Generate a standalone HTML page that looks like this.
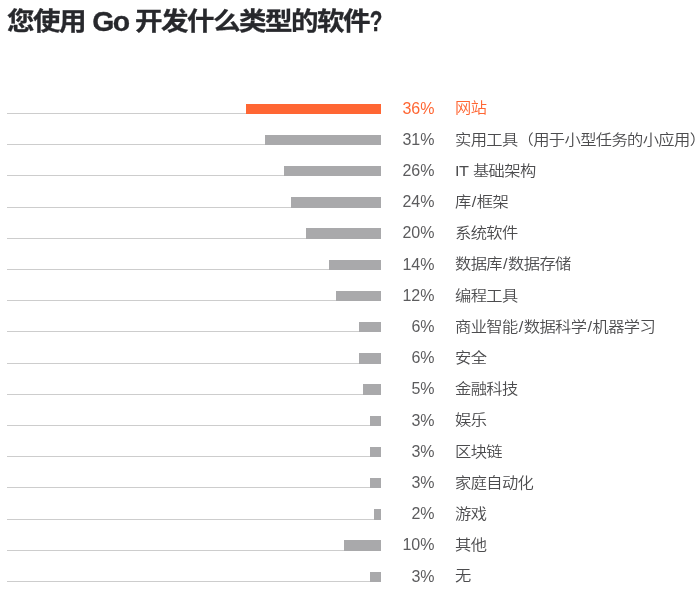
<!DOCTYPE html>
<html lang="zh-CN">
<head>
<meta charset="utf-8">
<title>您使用 Go 开发什么类型的软件?</title>
<style>
html,body{margin:0;padding:0;background:#fff;}
body{width:700px;height:605px;position:relative;overflow:hidden;font-family:"Liberation Sans","Noto Sans CJK SC",sans-serif;color:#4c4c4e;}
h1{position:absolute;left:7px;top:3.7px;margin:0;font-size:26px;line-height:34px;font-weight:bold;color:#27282c;white-space:nowrap;letter-spacing:-1.47px;word-spacing:1.2px;-webkit-text-stroke:0.3px #27282c;transform:scale(1.06,0.95);transform-origin:0 100%;}
h1 .q{display:inline-block;transform:translateX(-0.5px) scale(0.75,1.2);transform-origin:50% 73%;}
h1 .g{display:inline-block;transform:scale(1.03,1.1);transform-origin:50% 70%;}
.row{position:absolute;left:0;width:700px;height:31px;}
.line{position:absolute;left:7px;width:374.3px;height:1px;background:#cdcdcd;top:9.4px;}
.bar{position:absolute;height:10.4px;top:0;background:#a9a9ab;}
.pct{position:absolute;left:384px;width:50.5px;text-align:right;top:-7.1px;font-size:16px;line-height:24px;white-space:nowrap;color:#5c5c5e;}
.lbl{position:absolute;left:455.2px;top:-7.3px;font-size:15.65px;line-height:24px;white-space:nowrap;font-weight:350;letter-spacing:-0.6px;word-spacing:1.1px;transform:scale(1.04,0.92);transform-origin:0 78%;}
.lbl i{font-style:normal;margin:0 1.1px;}
.hl .bar{background:#ff6633;}
.hl .pct,.hl .lbl{color:#ff6633;}
</style>
</head>
<body>
<h1>您使用 <span class="g">Go</span> 开发什么类型的软件<span class="q">?</span></h1>
<div class="row hl" style="top:103.6px"><div class="line"></div><div class="bar" style="left:246.30px;width:135.00px"></div><div class="pct">36%</div><div class="lbl">网站</div></div>
<div class="row" style="top:134.8px"><div class="line"></div><div class="bar" style="left:265.05px;width:116.25px"></div><div class="pct">31%</div><div class="lbl">实用工具（用于小型任务的小应用）</div></div>
<div class="row" style="top:166.0px"><div class="line"></div><div class="bar" style="left:283.80px;width:97.50px"></div><div class="pct">26%</div><div class="lbl">IT 基础架构</div></div>
<div class="row" style="top:197.2px"><div class="line"></div><div class="bar" style="left:291.30px;width:90.00px"></div><div class="pct">24%</div><div class="lbl">库<i>/</i>框架</div></div>
<div class="row" style="top:228.4px"><div class="line"></div><div class="bar" style="left:306.30px;width:75.00px"></div><div class="pct">20%</div><div class="lbl">系统软件</div></div>
<div class="row" style="top:259.6px"><div class="line"></div><div class="bar" style="left:328.80px;width:52.50px"></div><div class="pct">14%</div><div class="lbl">数据库<i>/</i>数据存储</div></div>
<div class="row" style="top:290.8px"><div class="line"></div><div class="bar" style="left:336.30px;width:45.00px"></div><div class="pct">12%</div><div class="lbl">编程工具</div></div>
<div class="row" style="top:322.0px"><div class="line"></div><div class="bar" style="left:358.80px;width:22.50px"></div><div class="pct">6%</div><div class="lbl">商业智能<i>/</i>数据科学<i>/</i>机器学习</div></div>
<div class="row" style="top:353.2px"><div class="line"></div><div class="bar" style="left:358.80px;width:22.50px"></div><div class="pct">6%</div><div class="lbl">安全</div></div>
<div class="row" style="top:384.4px"><div class="line"></div><div class="bar" style="left:362.55px;width:18.75px"></div><div class="pct">5%</div><div class="lbl">金融科技</div></div>
<div class="row" style="top:415.6px"><div class="line"></div><div class="bar" style="left:370.05px;width:11.25px"></div><div class="pct">3%</div><div class="lbl">娱乐</div></div>
<div class="row" style="top:446.8px"><div class="line"></div><div class="bar" style="left:370.05px;width:11.25px"></div><div class="pct">3%</div><div class="lbl">区块链</div></div>
<div class="row" style="top:478.0px"><div class="line"></div><div class="bar" style="left:370.05px;width:11.25px"></div><div class="pct">3%</div><div class="lbl">家庭自动化</div></div>
<div class="row" style="top:509.2px"><div class="line"></div><div class="bar" style="left:373.80px;width:7.50px"></div><div class="pct">2%</div><div class="lbl">游戏</div></div>
<div class="row" style="top:540.4px"><div class="line"></div><div class="bar" style="left:343.80px;width:37.50px"></div><div class="pct">10%</div><div class="lbl">其他</div></div>
<div class="row" style="top:571.6px"><div class="line"></div><div class="bar" style="left:370.05px;width:11.25px"></div><div class="pct">3%</div><div class="lbl">无</div></div>
</body>
</html>
